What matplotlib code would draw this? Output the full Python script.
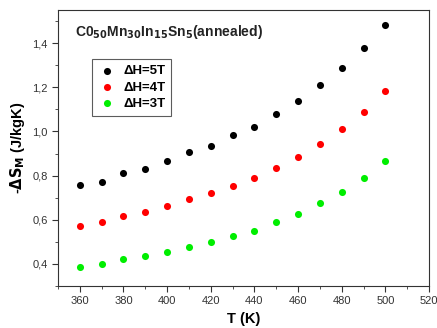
import numpy as np
import matplotlib.pyplot as plt
from matplotlib.ticker import MultipleLocator, FuncFormatter

# --- data ---
temps = [360, 370, 380, 390, 400, 410, 420, 430, 440, 450, 460, 470, 480, 490, 500]
ds_5t = [0.758, 0.771, 0.811, 0.832, 0.867, 0.905, 0.936, 0.982, 1.021, 1.077,
         1.140, 1.211, 1.289, 1.379, 1.484]
ds_4t = [0.571, 0.588, 0.618, 0.635, 0.664, 0.692, 0.720, 0.755, 0.790, 0.835,
         0.886, 0.945, 1.011, 1.086, 1.184]
ds_3t = [0.388, 0.400, 0.424, 0.435, 0.456, 0.477, 0.498, 0.527, 0.550, 0.588,
         0.626, 0.676, 0.726, 0.788, 0.864]
labels = ['ΔH=5T', 'ΔH=4T', 'ΔH=3T']
colors = ['#000000', '#ff0000', '#00ee00']

plt.rcParams['font.family'] = ['Liberation Sans', 'DejaVu Sans']

fig = plt.figure(figsize=(4.37, 3.28), dpi=100)
ax = fig.add_axes([0.1327, 0.128, 0.849, 0.8415])

for ys, c, lab in zip([ds_5t, ds_4t, ds_3t], colors, labels):
    ax.scatter(temps, ys, s=26, color=c, label=lab, zorder=3, linewidths=0)

ax.set_xlim(350, 520)
ax.set_ylim(0.3, 1.55)
ax.xaxis.set_major_locator(MultipleLocator(20))
ax.xaxis.set_minor_locator(MultipleLocator(10))
ax.yaxis.set_major_locator(MultipleLocator(0.2))
ax.yaxis.set_minor_locator(MultipleLocator(0.1))
ax.yaxis.set_major_formatter(FuncFormatter(lambda v, p: f'{v:.1f}'.replace('.', ',')))
ax.tick_params(which='both', direction='out', top=False, right=False,
               labelsize=8, labelcolor='#333333', color='#333333')
ax.tick_params(which='major', length=4)
ax.tick_params(which='minor', length=2.5)
for s in ax.spines.values():
    s.set_color('#333333')

ax.set_xlabel('T (K)', fontsize=10.5, fontweight='bold')
ax.set_ylabel(r'-$\mathbf{\Delta S_M}$ (J/kgK)', fontsize=10.5, fontweight='bold')

ax.text(0.045, 0.92, r'C0$_{\mathbf{50}}$Mn$_{\mathbf{30}}$In$_{\mathbf{15}}$Sn$_{\mathbf{5}}$(annealed)',
        transform=ax.transAxes, fontsize=10, fontweight='bold', color='#222222',
        va='center')

leg = ax.legend(loc='upper left', bbox_to_anchor=(0.092, 0.822), borderaxespad=0,
                frameon=True, fancybox=False, edgecolor='#333333',
                handletextpad=0.5, borderpad=0.45, labelspacing=0.3,
                handlelength=1.4, prop={'weight': 'bold', 'size': 9.5})
leg.get_frame().set_linewidth(0.8)

fig.savefig('out.png', dpi=100)
